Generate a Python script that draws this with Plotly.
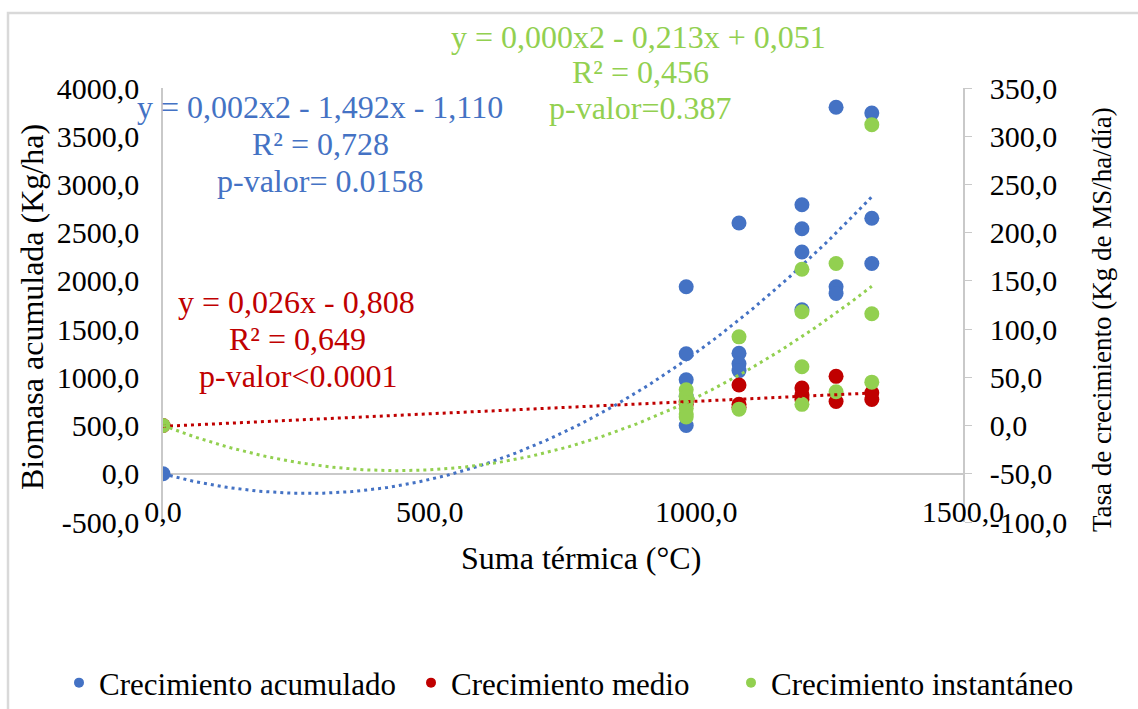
import numpy as np
import plotly.graph_objects as go

# Suma térmica (°C) and measured values per series
x_acum = [0, 981, 981, 981, 981, 981, 1080, 1080, 1080, 1080,
          1198, 1198, 1198, 1198, 1262, 1262, 1262, 1329, 1329, 1329]
y_acum = [0, 1940, 1245, 975, 800, 500, 2600, 1250, 1140, 1070,
          2790, 2540, 2300, 1700, 3800, 1940, 1870, 3740, 2650, 2180]

x_medio = [0, 981, 981, 1080, 1080, 1080, 1198, 1198, 1198, 1262, 1262, 1329, 1329]
y_medio = [0, 25, 22, 42, 22, 19, 39, 32, 27, 51, 25, 34, 27]

x_inst = [0, 981, 981, 981, 981, 981, 981, 1080, 1080,
          1198, 1198, 1198, 1198, 1262, 1262, 1329, 1329, 1329]
y_inst = [0, 37, 30, 24, 18, 12, 9, 92, 17,
          162, 118, 61, 22, 168, 35, 312, 116, 45]

# Trendline coefficients (highest power first)
coef_acum = [0.00275, -1.492, -1.110]
coef_medio = [0.026, -0.808]
coef_inst = [0.000242, -0.213, 0.051]

series_names = ["Crecimiento acumulado", "Crecimiento medio", "Crecimiento instantáneo"]

left_ticks = [-500, 0, 500, 1000, 1500, 2000, 2500, 3000, 3500, 4000]
right_ticks = [-100, -50, 0, 50, 100, 150, 200, 250, 300, 350]
x_ticks = [0, 500, 1000, 1500]

BLUE, RED, GREEN = "#4472C4", "#C00000", "#92D050"
FONT = "'Liberation Serif', 'Times New Roman', serif"
AXIS_GRAY = "#C9C9C9"
FS_TEXT = 32
FS_TICK = 30
FS_LEG = 31


def fmt(v):
    return f"{v:.1f}".replace(".", ",")


W, H = 1138, 709
L, R, T, B = 163, 963, 88, 522


def px_x(p):
    return (p - L) / (R - L)


def px_y(p):
    return (B - p) / (B - T)


fig = go.Figure()

legend_ids = ["legend", "legend2", "legend3"]

fig.add_trace(go.Scatter(x=x_acum, y=y_acum, mode="markers", yaxis="y",
                         name=series_names[0], legend=legend_ids[0],
                         marker=dict(color=BLUE, size=15), showlegend=False))
fig.add_trace(go.Scatter(x=x_medio, y=y_medio, mode="markers", yaxis="y2",
                         name=series_names[1], legend=legend_ids[1],
                         marker=dict(color=RED, size=15), showlegend=False))
fig.add_trace(go.Scatter(x=x_inst, y=y_inst, mode="markers", yaxis="y2",
                         name=series_names[2], legend=legend_ids[2],
                         marker=dict(color=GREEN, size=15), showlegend=False))

xt = np.linspace(0, max(x_acum), 200)
dot = dict(width=3, dash="3px,4px")
fig.add_trace(go.Scatter(x=xt, y=np.polyval(coef_acum, xt), mode="lines", yaxis="y",
                         line=dict(color=BLUE, **dot), showlegend=False))
fig.add_trace(go.Scatter(x=xt, y=np.polyval(coef_medio, xt), mode="lines", yaxis="y2",
                         line=dict(color=RED, **dot), showlegend=False))
fig.add_trace(go.Scatter(x=xt, y=np.polyval(coef_inst, xt), mode="lines", yaxis="y2",
                         line=dict(color=GREEN, **dot), showlegend=False))

# legend entries (one legend box per series so each sits at its own spot)
for name, col, lid in zip(series_names, [BLUE, RED, GREEN], legend_ids):
    fig.add_trace(go.Scatter(x=[None], y=[None], mode="markers", name=name, legend=lid,
                             marker=dict(color=col, size=10)))

annotations = []


def add_text(text, cx, cy, color, angle=0, size=FS_TEXT):
    annotations.append(dict(text=text, x=px_x(cx), y=px_y(cy), xref="paper", yref="paper",
                            showarrow=False, xanchor="center", yanchor="middle",
                            textangle=angle, font=dict(family=FONT, size=size, color=color)))


add_text("y = 0,002x2 - 1,492x - 1,110", 320, 107, BLUE)
add_text("R² = 0,728", 320, 144, BLUE)
add_text("p-valor= 0.0158", 320, 181, BLUE)

add_text("y = 0,000x2 - 0,213x + 0,051", 638, 37, GREEN)
add_text("R² = 0,456", 640, 72, GREEN)
add_text("p-valor=0.387", 640, 108, GREEN)

add_text("y = 0,026x - 0,808", 296, 302, RED)
add_text("R² = 0,649", 297, 339, RED)
add_text("p-valor<0.0001", 298, 376, RED)

add_text("Biomasa acumulada (Kg/ha)", 32, 307, "#000000", angle=-90)
add_text("Tasa de crecimiento (Kg de MS/ha/día)", 1102, 320, "#000000", angle=-90, size=27)
add_text("Suma térmica (°C)", 581, 558, "#000000")


def legend_box(marker_px):
    return dict(orientation="h", x=px_x(marker_px - 21), y=px_y(683),
                xanchor="left", yanchor="middle", borderwidth=0,
                font=dict(family=FONT, size=FS_LEG), bgcolor="rgba(0,0,0,0)")


fig.update_layout(
    width=W, height=H,
    margin=dict(l=L, r=W - R, t=T, b=H - B, autoexpand=False),
    paper_bgcolor="white", plot_bgcolor="white",
    font=dict(family=FONT, size=FS_TICK, color="#000000"),
    xaxis=dict(range=[0, 1500], tickvals=x_ticks, ticktext=[fmt(v) for v in x_ticks],
               showgrid=False, zeroline=False, showline=False, ticks="",
               anchor="free", position=px_y(491), tickfont=dict(family=FONT, size=FS_TICK)),
    yaxis=dict(range=[-500, 4000], tickvals=left_ticks, ticktext=[fmt(v) for v in left_ticks],
               showgrid=False, zeroline=True, zerolinecolor=AXIS_GRAY, zerolinewidth=1.5,
               showline=True, linecolor=AXIS_GRAY, linewidth=1.5, ticks="",
               ticklabelstandoff=16, tickfont=dict(family=FONT, size=FS_TICK)),
    yaxis2=dict(range=[-100, 350], tickvals=right_ticks, ticktext=[fmt(v) for v in right_ticks],
                overlaying="y", side="right", anchor="x",
                showgrid=False, zeroline=False, showline=True, linecolor=AXIS_GRAY,
                linewidth=1.5, ticks="outside", ticklen=7, tickcolor=AXIS_GRAY,
                ticklabelstandoff=12, tickfont=dict(family=FONT, size=FS_TICK)),
    legend=legend_box(80),
    legend2=legend_box(432),
    legend3=legend_box(752),
    annotations=annotations,
    shapes=[dict(type="rect", xref="paper", yref="paper",
                 x0=px_x(8), x1=px_x(1150), y0=px_y(13), y1=px_y(720),
                 line=dict(color="#D9D9D9", width=2.5), layer="below")],
)

fig.write_html("out.html")
